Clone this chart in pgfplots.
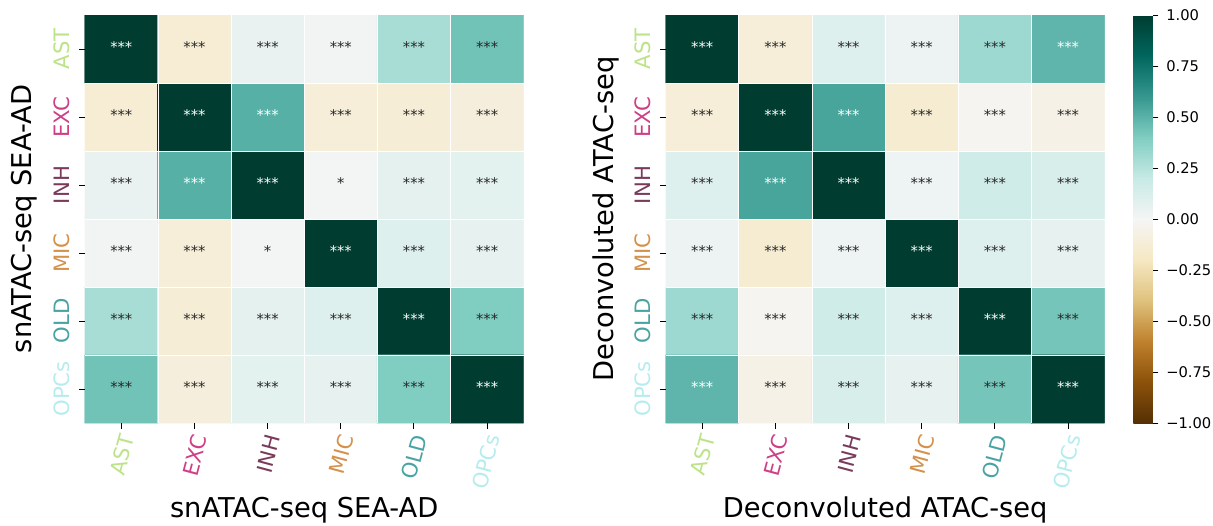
\documentclass[border=0pt]{standalone}
\usepackage{pgfplots}
\usepackage{pgfplotstable}
\usepackage{fontspec}
\setmainfont{DejaVu Sans}
\pgfplotsset{compat=1.18}
\definecolor{cAST}{HTML}{BDE38A}
\definecolor{cEXC}{HTML}{CF3F87}
\definecolor{cINH}{HTML}{7A3A5C}
\definecolor{cMIC}{HTML}{D4914B}
\definecolor{cOLD}{HTML}{4AA3A3}
\definecolor{cOPC}{HTML}{B7ECEE}
\definecolor{annot}{HTML}{262626}
\pgfplotsset{colormap={BrBG}{rgb255=(84,48,5) rgb255=(140,81,10) rgb255=(191,129,45) rgb255=(223,194,125) rgb255=(246,232,195) rgb255=(245,245,245) rgb255=(199,234,229) rgb255=(128,205,193) rgb255=(53,151,143) rgb255=(1,102,94) rgb255=(0,60,48)}}
\newcommand\tickfont{\fontsize{10.6}{12.7}\selectfont}
\newcommand\labfont{\fontsize{13.65}{16}\selectfont}
\newcommand\smallfont{\fontsize{7.35}{8.8}\selectfont}

\pgfplotstableread{
x y c
0 0 1
1 0 -0.13
2 0 0.05
3 0 0.02
4 0 0.29
5 0 0.44
0 1 -0.13
1 1 1
2 1 0.51
3 1 -0.11
4 1 -0.12
5 1 -0.10
0 2 0.05
1 2 0.51
2 2 1
3 2 0.01
4 2 0.07
5 2 0.08
0 3 0.02
1 3 -0.11
2 3 0.01
3 3 1
4 3 0.10
5 3 0.06
0 4 0.29
1 4 -0.12
2 4 0.07
3 4 0.10
4 4 1
5 4 0.40
0 5 0.44
1 5 -0.10
2 5 0.08
3 5 0.06
4 5 0.40
5 5 1
}\leftdata

\pgfplotstableread{
x y c
0 0 1
1 0 -0.11
2 0 0.10
3 0 0.04
4 0 0.32
5 0 0.49
0 1 -0.11
1 1 1
2 1 0.55
3 1 -0.14
4 1 -0.02
5 1 -0.06
0 2 0.10
1 2 0.55
2 2 1
3 2 0.03
4 2 0.16
5 2 0.13
0 3 0.04
1 3 -0.14
2 3 0.03
3 3 1
4 3 0.10
5 3 0.06
0 4 0.32
1 4 -0.02
2 4 0.16
3 4 0.10
4 4 1
5 4 0.43
0 5 0.49
1 5 -0.06
2 5 0.13
3 5 0.06
4 5 0.43
5 5 1
}\rightdata

% annotations, left panel
\pgfplotstableread{
x y t
1 0 ***
2 0 ***
3 0 ***
4 0 ***
5 0 ***
0 1 ***
3 1 ***
4 1 ***
5 1 ***
0 2 ***
3 2 *
4 2 ***
5 2 ***
0 3 ***
1 3 ***
2 3 *
4 3 ***
5 3 ***
0 4 ***
1 4 ***
2 4 ***
3 4 ***
5 4 ***
0 5 ***
1 5 ***
2 5 ***
3 5 ***
4 5 ***
}\leftdark
\pgfplotstableread{
x y t
0 0 ***
1 1 ***
2 2 ***
3 3 ***
4 4 ***
5 5 ***
2 1 ***
1 2 ***
}\leftwhite
% annotations, right panel
\pgfplotstableread{
x y t
1 0 ***
2 0 ***
3 0 ***
4 0 ***
0 1 ***
3 1 ***
4 1 ***
5 1 ***
0 2 ***
3 2 ***
4 2 ***
5 2 ***
0 3 ***
1 3 ***
2 3 ***
4 3 ***
5 3 ***
0 4 ***
1 4 ***
2 4 ***
3 4 ***
5 4 ***
1 5 ***
2 5 ***
3 5 ***
4 5 ***
}\rightdark
\pgfplotstableread{
x y t
0 0 ***
1 1 ***
2 2 ***
3 3 ***
4 4 ***
5 5 ***
2 1 ***
1 2 ***
5 0 ***
0 5 ***
}\rightwhite

\pgfplotsset{
  heat/.style={
    scale only axis,
    width=219.5pt, height=204pt,
    xmin=-0.5, xmax=5.5, ymin=-0.5, ymax=5.5,
    y dir=reverse,
    enlargelimits=false,
    axis line style={draw=none},
    tick align=outside,
    major tick length=2.85pt,
    tick style={black, line width=0.5pt},
    xtick={0,1,2,3,4,5}, ytick={0,1,2,3,4,5},
    xtick pos=bottom, ytick pos=left,
    minor xtick={0.5,1.5,2.5,3.5,4.5},
    minor ytick={0.5,1.5,2.5,3.5,4.5},
    minor tick length=0pt,
    xminorgrids, yminorgrids,
    minor grid style={white, line width=0.35pt},
    axis on top,
    xticklabels={\textcolor{cAST}{AST},\textcolor{cEXC}{EXC},\textcolor{cINH}{INH},\textcolor{cMIC}{MIC},\textcolor{cOLD}{OLD},\textcolor{cOPC}{OPCs}},
    yticklabels={\textcolor{cAST}{AST},\textcolor{cEXC}{EXC},\textcolor{cINH}{INH},\textcolor{cMIC}{MIC},\textcolor{cOLD}{OLD},\textcolor{cOPC}{OPCs}},
    xticklabel style={font=\tickfont, inner sep=0pt, xshift=3pt, yshift=-3.1pt, rotate=75, anchor=east},
    yticklabel style={font=\tickfont, inner sep=0pt, xshift=-4.4pt, rotate=90, anchor=south},
    point meta min=-1, point meta max=1,
    colormap name=BrBG,
  },
  annot/.style={
    draw=none, mark=none, only marks,
    point meta=explicit symbolic,
    nodes near coords,
    every node near coord/.append style={anchor=center, font=\smallfont, text=#1, inner sep=0pt, yshift=1pt},
  },
}

\begin{document}
\begin{tikzpicture}
\useasboundingbox (-42.35pt,-51pt) rectangle (564.15pt,211.5pt);
\begin{axis}[heat,
  at={(0pt,0pt)}, anchor=south west,
  xlabel={snATAC-seq SEA-AD},
  ylabel={snATAC-seq SEA-AD},
  every axis x label/.style={at={(axis description cs:0.5,-0.2304)}, anchor=base, font=\labfont},
  every axis y label/.style={at={(axis description cs:-0.1201,0.5)}, rotate=90, anchor=base, font=\labfont},
]
\addplot[matrix plot*, mesh/cols=6, point meta=explicit] table[x=x, y=y, meta=c] {\leftdata};
\addplot[annot=annot] table[x=x, y=y, meta=t] {\leftdark};
\addplot[annot=white] table[x=x, y=y, meta=t] {\leftwhite};
\end{axis}
\begin{axis}[heat,
  at={(290.45pt,0pt)}, anchor=south west,
  xlabel={Deconvoluted ATAC-seq},
  ylabel={Deconvoluted ATAC-seq},
  every axis x label/.style={at={(axis description cs:0.5,-0.2304)}, anchor=base, font=\labfont},
  every axis y label/.style={at={(axis description cs:-0.1176,0.5)}, rotate=90, anchor=base, font=\labfont},
  colorbar,
  colorbar style={
    at={(parent axis.north east)}, anchor=north west, xshift=5.8pt,
    width=9.75pt,
    axis line style={draw=none},
    tick align=outside,
    major tick length=2.85pt,
    tick style={black, line width=0.5pt},
    ytick={-1,-0.75,-0.5,-0.25,0,0.25,0.5,0.75,1},
    yticklabels={−1.00,−0.75,−0.50,−0.25,0.00,0.25,0.50,0.75,1.00},
    yticklabel style={font=\smallfont, inner sep=0pt, anchor=west, xshift=3.7pt},
    ytick pos=right,
  },
]
\addplot[matrix plot*, mesh/cols=6, point meta=explicit] table[x=x, y=y, meta=c] {\rightdata};
\addplot[annot=annot] table[x=x, y=y, meta=t] {\rightdark};
\addplot[annot=white] table[x=x, y=y, meta=t] {\rightwhite};
\end{axis}
\end{tikzpicture}
\end{document}
